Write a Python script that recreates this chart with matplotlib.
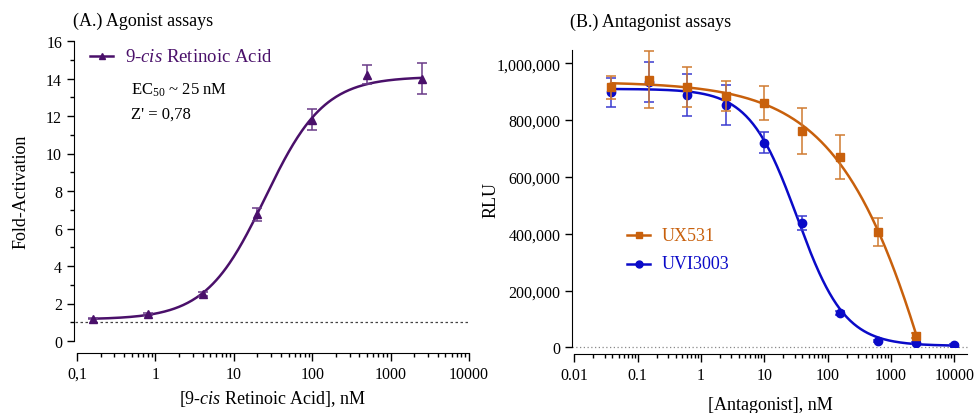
import matplotlib
matplotlib.use("Agg")
import matplotlib.pyplot as plt
import numpy as np
from matplotlib.ticker import FixedLocator, FixedFormatter, LogLocator, NullFormatter, MultipleLocator

plt.rcParams['font.family'] = ['Liberation Serif', 'DejaVu Serif']
plt.rcParams['mathtext.fontset'] = 'custom'
plt.rcParams['mathtext.rm'] = 'Liberation Serif'
plt.rcParams['mathtext.it'] = 'Liberation Serif:italic'

# (A.) agonist data - 9-cis retinoic acid, nM
ago_conc = [0.16, 0.8, 4, 20, 100, 500, 2500]
ago_fold = [1.2, 1.45, 2.5, 6.75, 11.8, 14.2, 14.0]
ago_err = [0.05, 0.06, 0.1, 0.35, 0.55, 0.5, 0.85]
# 4PL fit (bottom, top, EC50, hill)
ago_fit = (1.15, 14.1, 25.0, 1.15)

# (B.) antagonist data, nM
ant_conc = [0.038, 0.153, 0.61, 2.44, 9.8, 39, 156, 625, 2500, 10000]
ux531 = [915000, 942000, 918000, 885000, 859000, 762000, 669000, 407000, 41000]
ux531_err = [40000, 100000, 70000, 52000, 60000, 80000, 77000, 50000, 8000]
uvi3003 = [898000, 935000, 887000, 853000, 720000, 439000, 121000, 23000, 14000, 9000]
uvi3003_err = [50000, 71000, 74000, 70000, 37000, 25000, 6000, 4000, 3000, 2000]
# 4PL fits (bottom, top, IC50, hill)
ux531_fit = (-2000000, 935000, 13180.0, 0.5)
uvi3003_fit = (5000, 910000, 33.0, 1.15)

purple = '#4a106a'
orange = '#c8600c'
blue = '#0a0ac8'


def four_pl(x, bottom, top, mid, hill):
    return bottom + (top - bottom) / (1 + (x / mid) ** hill)


def four_pl_up(x, bottom, top, mid, hill):
    return bottom + (top - bottom) / (1 + (mid / x) ** hill)


fig = plt.figure(figsize=(9.77, 4.14), dpi=100)

# ---------------- (A.) Agonist assays
ax1 = fig.add_axes([77/977, 72/414, 392/977, 300/414])
xs = np.logspace(np.log10(ago_conc[0]), np.log10(ago_conc[-1]), 300)
ax1.plot(xs, four_pl_up(xs, *ago_fit), color=purple, lw=1.8, zorder=3)
ax1.errorbar(ago_conc, ago_fold, yerr=ago_err, fmt='^', color=purple, ms=6,
             ecolor='#6a3a88', elinewidth=1.1, capsize=3.5, capthick=1.1, zorder=4)
ax1.plot([0.093, 10000], [1, 1], ls=(0, (2, 2)), color='#444444', lw=0.9, clip_on=False)
ax1.set_xscale('log')
ax1.set_xlim(0.1, 10000)
ax1.set_ylim(0, 16)
ax1.yaxis.set_major_locator(MultipleLocator(2))
ax1.yaxis.set_minor_locator(MultipleLocator(1))
ax1.xaxis.set_major_locator(FixedLocator([0.1, 1, 10, 100, 1000, 10000]))
ax1.xaxis.set_major_formatter(FixedFormatter(['0,1', '1', '10', '100', '1000', '10000']))
ax1.xaxis.set_minor_locator(LogLocator(base=10, subs=np.arange(2, 10), numticks=20))
ax1.xaxis.set_minor_formatter(NullFormatter())
ax1.spines['top'].set_visible(False)
ax1.spines['right'].set_visible(False)
ax1.spines['left'].set_position(('outward', 2.2))
ax1.spines['bottom'].set_position(('outward', 8.6))
ax1.tick_params(axis='both', which='major', length=5, width=1, labelsize=11.5, direction='out')
ax1.tick_params(axis='both', which='minor', length=3, width=1, direction='out')
ax1.tick_params(axis='x', which='major', length=6)
ax1.set_ylabel('Fold-Activation', fontsize=13, labelpad=12)
ax1.set_xlabel('[9-$\\it{cis}$ Retinoic Acid], nM', fontsize=13, labelpad=4)
fig.text(73/977, 1 - 21/414, '(A.) Agonist assays', fontsize=13, va='center', ha='left')

# legend and stats text
ax1.plot([0.1 * 10 ** (13/78.3), 0.1 * 10 ** (36/78.3)], [15.2, 15.2], color=purple, lw=1.8)
ax1.plot([0.1 * 10 ** (24.5/78.3)], [15.2], '^', color=purple, ms=5)
ax1.text(0.1 * 10 ** (48/78.3), 15.2, '9-$\\it{cis}$ Retinoic Acid', color=purple,
         fontsize=13.5, va='center', ha='left')
ax1.text(0.1 * 10 ** (54/78.3), 13.4, 'EC$_{50}$ ~ 25 nM', fontsize=12, va='center', ha='left')
ax1.text(0.1 * 10 ** (54/78.3), 12.1, "Z' = 0,78", fontsize=12, va='center', ha='left')

# ---------------- (B.) Antagonist assays
ax2 = fig.add_axes([574.3/977, 65.7/414, 392.7/977, 297.3/414])
xb = np.logspace(np.log10(ant_conc[0]), np.log10(ant_conc[-1]), 400)
ax2.plot(xb, four_pl(xb, *uvi3003_fit), color=blue, lw=1.8, zorder=3)
ax2.errorbar(ant_conc, uvi3003, yerr=uvi3003_err, fmt='o', color=blue, ms=6,
             ecolor='#3a3ad0', elinewidth=1.1, capsize=3.5, capthick=1.1, zorder=4)
xo = np.logspace(np.log10(ant_conc[0]), np.log10(ant_conc[len(ux531) - 1]), 400)
ax2.plot(xo, four_pl(xo, *ux531_fit), color=orange, lw=1.8, zorder=5)
ax2.errorbar(ant_conc[:len(ux531)], ux531, yerr=ux531_err, fmt='s', color=orange, ms=6,
             ecolor='#d07a30', elinewidth=1.1, capsize=3.5, capthick=1.1, zorder=6)
ax2.plot([0.0093, 10 ** 4.2], [0, 0], ls=(0, (1, 2)), color='#888888', lw=0.9, clip_on=False)
ax2.set_xscale('log')
ax2.set_xlim(0.01, 10 ** 4.2)
ax2.set_ylim(0, 1047000)
yt = [0, 200000, 400000, 600000, 800000, 1000000]
ax2.yaxis.set_major_locator(FixedLocator(yt))
ax2.yaxis.set_major_formatter(FixedFormatter(['{:,}'.format(v) for v in yt]))
ax2.xaxis.set_major_locator(FixedLocator([0.01, 0.1, 1, 10, 100, 1000, 10000]))
ax2.xaxis.set_major_formatter(FixedFormatter(['0.01', '0.1', '1', '10', '100', '1000', '10000']))
ax2.xaxis.set_minor_locator(LogLocator(base=10, subs=np.arange(2, 10), numticks=20))
ax2.xaxis.set_minor_formatter(NullFormatter())
ax2.spines['top'].set_visible(False)
ax2.spines['right'].set_visible(False)
ax2.spines['left'].set_position(('outward', 1.5))
ax2.spines['bottom'].set_position(('outward', 5))
ax2.tick_params(axis='both', which='major', length=5, width=1, labelsize=11.5, direction='out')
ax2.tick_params(axis='both', which='minor', length=3, width=1, direction='out')
ax2.tick_params(axis='x', which='major', length=6)
ax2.set_ylabel('RLU', fontsize=13, labelpad=-2)
ax2.set_xlabel('[Antagonist], nM', fontsize=13, labelpad=9)
fig.text(570/977, 1 - 22/414, '(B.) Antagonist assays', fontsize=13, va='center', ha='left')

# legend
lx = lambda px: 0.01 * 10 ** ((px - 574.3) / 63.3)
for yv, col, mk, name in [(395000, orange, 's', 'UX531'), (295000, blue, 'o', 'UVI3003')]:
    ax2.plot([lx(627), lx(650)], [yv, yv], color=col, lw=1.8)
    ax2.plot([lx(638.5)], [yv], mk, color=col, ms=5)
    ax2.text(lx(662), yv, name, color=col, fontsize=13, va='center', ha='left')

fig.savefig('out.png', dpi=100)
